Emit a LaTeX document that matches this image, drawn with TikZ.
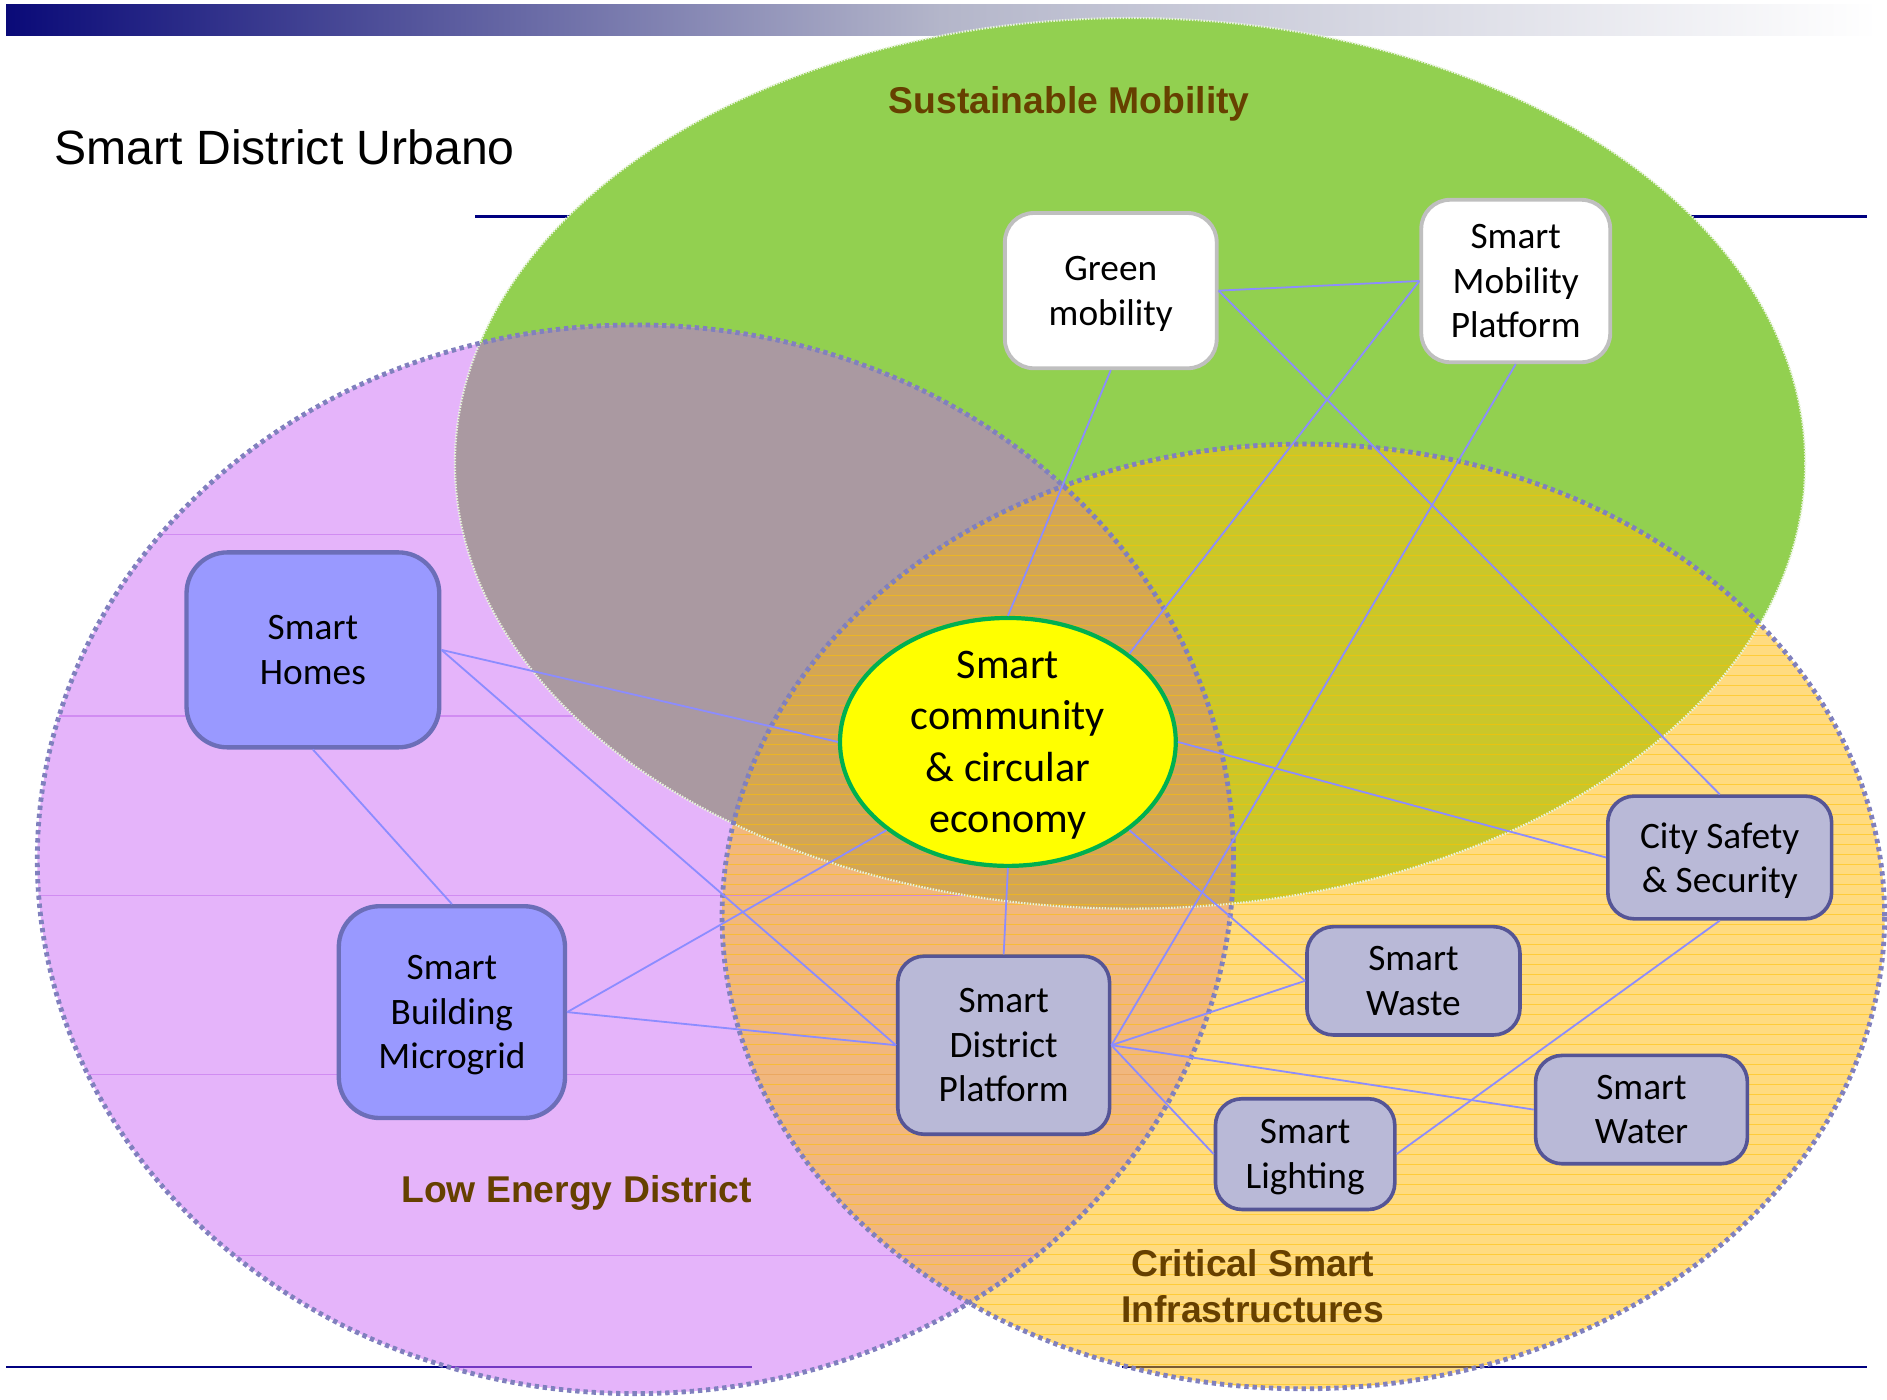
\documentclass[tikz,border=0pt]{standalone}
\usepackage{fontspec}
\setmainfont{Liberation Sans}
\newfontfamily\calfont{Carlito}
\newfontfamily\arialfont{Liberation Sans}
\usetikzlibrary{shapes.geometric}
\definecolor{barnavy}{RGB}{10,10,120}
\definecolor{barmid}{RGB}{180,182,202}
\definecolor{navyline}{RGB}{0,0,128}
\definecolor{gfill}{RGB}{146,208,80}
\definecolor{pfill}{RGB}{229,180,250}
\definecolor{yfill}{RGB}{255,219,128}
\definecolor{gpfill}{RGB}{170,153,161}
\definecolor{gyfill}{RGB}{202,199,42}
\definecolor{pyfill}{RGB}{241,183,126}
\definecolor{gpyfill}{RGB}{211,166,86}
\definecolor{stripec}{RGB}{255,192,0}
\definecolor{tmplc}{RGB}{205,130,240}
\definecolor{dotc}{RGB}{128,128,190}
\definecolor{gdot}{RGB}{232,244,220}
\definecolor{connc}{RGB}{140,140,255}
\definecolor{wborder}{RGB}{191,191,191}
\definecolor{bfill}{RGB}{153,153,255}
\definecolor{bborder}{RGB}{108,110,184}
\definecolor{lfill}{RGB}{185,185,215}
\definecolor{lborder}{RGB}{85,85,150}
\definecolor{cefill}{RGB}{255,255,0}
\definecolor{ceborder}{RGB}{0,176,80}
\definecolor{lblc}{RGB}{102,64,0}
\newcommand\bxfont{\calfont\fontsize{15.5}{18.5}\selectfont}
\newcommand\cetxtfont{\calfont\fontsize{17.5}{21.3}\selectfont}
\newcommand\lbfont{\arialfont\bfseries\fontsize{15.5}{19}\selectfont}
\newcommand\ttlfont{\arialfont\fontsize{20}{24}\selectfont}
\tikzset{
  conn/.style={draw=connc, line width=0.75pt},
  wbox/.style={draw=wborder, fill=white, line width=1.6pt, rounded corners=12pt, align=center, inner sep=2pt, text depth=0pt, font=\bxfont},
  bbox/.style={draw=bborder, fill=bfill, line width=1.8pt, rounded corners=17pt, align=center, inner sep=2pt, text depth=0pt, font=\bxfont},
  lbox/.style={draw=lborder, fill=lfill, line width=1.5pt, rounded corners=11pt, align=center, inner sep=2pt, text depth=0pt, font=\bxfont},
  lbl/.style={text=lblc, font=\lbfont, align=center, inner sep=0pt},
  dotb/.style={draw=dotc, line width=2pt, dash pattern=on 1.8pt off 1.6pt},
  gdotb/.style={draw=gdot, line width=0.9pt, dash pattern=on 0.6pt off 0.6pt},
}
\begin{document}
\begin{tikzpicture}[x=0.5pt,y=-0.5pt]
\useasboundingbox (0,0) rectangle (1568,1162.5);
% title bar and template lines
\shade[left color=barnavy, right color=white, middle color=barmid] (5,3.7) rectangle (1560,29.7);
\draw[navyline, line width=1.1pt] (395,180) -- (1551,180);
% base fills
\fill[gfill] (939,385) ellipse [x radius=280.5pt, y radius=185pt];
\fill[pfill] (528,714) ellipse [x radius=248.5pt, y radius=222pt];
\fill[yfill] (1083,761.5) ellipse [x radius=241.5pt, y radius=196.25pt];
% purple & yellow
\begin{scope}
  \clip (528,714) ellipse [x radius=248.5pt, y radius=222pt];
  \fill[pyfill] (1083,761.5) ellipse [x radius=241.5pt, y radius=196.25pt];
  \foreach \yy in {444,595,744,893,1043}
    \draw[tmplc, line width=0.5pt, opacity=0.8] (0,\yy) -- (1100,\yy);
\end{scope}
% green & purple
\begin{scope}
  \clip (939,385) ellipse [x radius=280.5pt, y radius=185pt];
  \fill[gpfill] (528,714) ellipse [x radius=248.5pt, y radius=222pt];
  \fill[gyfill] (1083,761.5) ellipse [x radius=241.5pt, y radius=196.25pt];
  \clip (528,714) ellipse [x radius=248.5pt, y radius=222pt];
  \fill[gpyfill] (1083,761.5) ellipse [x radius=241.5pt, y radius=196.25pt];
\end{scope}
% stripes on yellow
\begin{scope}
  \clip (1083,761.5) ellipse [x radius=241.5pt, y radius=196.25pt];
  \foreach \yy in {370,378.3,...,1160}
    \draw[stripec, line width=0.4pt, opacity=0.55] (590,\yy) -- (1568,\yy);
\end{scope}
% bottom template lines
\draw[navyline, line width=1.1pt] (5,1136) -- (625,1136);
\draw[navyline, line width=1.1pt] (932,1136) -- (1551,1136);
\begin{scope}
  \clip (528,714) ellipse [x radius=248.5pt, y radius=222pt];
  \draw[color={rgb,255:red,115;green,55;blue,195}, line width=1.1pt] (5,1136) -- (625,1136);
\end{scope}
\begin{scope}
  \clip (1083,761.5) ellipse [x radius=241.5pt, y radius=196.25pt];
  \draw[color={rgb,255:red,120;green,90;blue,50}, line width=1.1pt] (932,1136) -- (1551,1136);
\end{scope}
% borders
\draw[gdotb] (939,385) ellipse [x radius=280.5pt, y radius=185pt];
\draw[dotb] (528,714) ellipse [x radius=248.5pt, y radius=222pt];
\draw[dotb] (1083,761.5) ellipse [x radius=241.5pt, y radius=196.25pt];
% title and labels
\node[anchor=base west, font=\ttlfont, inner sep=0pt] (title) at (45,137) {Smart District Urbano};
\node[lbl, anchor=base] (lsm) at (888.5,94) {Sustainable Mobility};
\node[lbl, anchor=base] (led) at (479,999) {Low Energy District};
\node[lbl, anchor=base] (lcs) at (1041,1061) {Critical Smart};
\node[lbl, anchor=base] (lci) at (1041,1099) {Infrastructures};
% nodes
\node[ellipse, draw=ceborder, fill=cefill, line width=1.75pt, minimum width=139.5pt, minimum height=103pt, inner sep=0pt] (ce) at (837.5,616.5) {};
\node[wbox, minimum width=88pt, minimum height=64.5pt] (gm) at (923,241.5) {Green\\mobility};
\node[wbox, minimum width=78.5pt, minimum height=67.5pt] (smp) at (1259.5,233.5) {Smart\\Mobility\\Platform};
\node[bbox, minimum width=105pt, minimum height=81pt] (homes) at (260,540) {Smart\\Homes};
\node[bbox, minimum width=94pt, minimum height=88pt] (sbm) at (375.5,841) {Smart\\Building\\Microgrid};
\node[lbox, minimum width=88pt, minimum height=74pt] (sdp) at (834,868.5) {Smart\\District\\Platform};
\node[lbox, minimum width=88.5pt, minimum height=45pt] (waste) at (1174.5,815) {Smart\\Waste};
\node[lbox, minimum width=93pt, minimum height=51pt] (csafe) at (1429,712.5) {City Safety\\\& Security};
\node[lbox, minimum width=88pt, minimum height=45pt] (water) at (1364,922) {Smart\\Water};
\node[lbox, minimum width=74.5pt, minimum height=46pt] (light) at (1084.5,959) {Smart\\Lighting};
% connectors
\draw[conn] (gm.south) -- (ce.north);
\draw[conn] (gm.east) -- (smp.west);
\draw[conn] (gm.east) -- (csafe.north);
\draw[conn] (smp.west) -- (ce.36);
\draw[conn] (smp.south) -- (sdp.east);
\draw[conn] (homes.east) -- (ce.west);
\draw[conn] (homes.east) -- (sdp.west);
\draw[conn] (homes.south) -- (sbm.north);
\draw[conn] (sbm.east) -- (ce.216);
\draw[conn] (sbm.east) -- (sdp.west);
\draw[conn] (ce.south) -- (sdp.north);
\draw[conn] (ce.east) -- (csafe.west);
\draw[conn] (ce.324) -- (waste.west);
\draw[conn] (sdp.east) -- (waste.west);
\draw[conn] (sdp.east) -- (water.west);
\draw[conn] (sdp.east) -- (light.west);
\draw[conn] (csafe.south) -- (light.east);
% central text
\node[align=center, font=\cetxtfont, inner sep=0pt, text depth=0pt] (cetext) at (ce.center) {Smart\\community\\\& circular\\economy};
\end{tikzpicture}
\end{document}
